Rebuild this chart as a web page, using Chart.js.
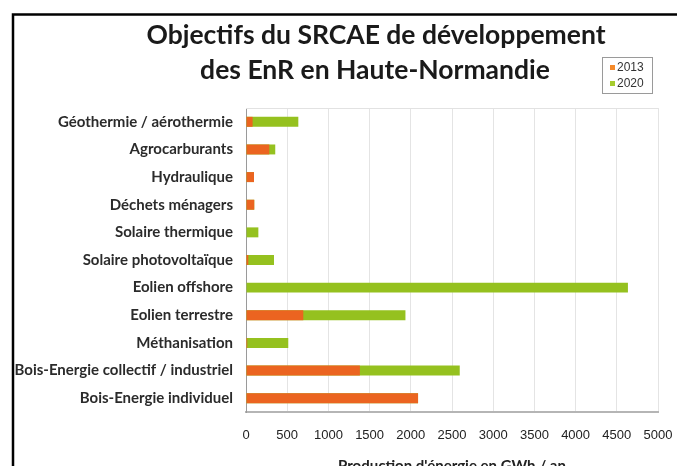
<!DOCTYPE html>
<html>
<head>
<meta charset="utf-8">
<style>
  body { margin: 0; background: #fff; }
  canvas { display: block; }
</style>
<script src="https://cdn.jsdelivr.net/npm/chart.js@4/dist/chart.umd.min.js"></script>
</head>
<body>
<canvas id="enrChart" width="677" height="466"></canvas>
<script>
// Data
const categories = [
  'Géothermie / aérothermie',
  'Agrocarburants',
  'Hydraulique',
  'Déchets ménagers',
  'Solaire thermique',
  'Solaire photovoltaïque',
  'Eolien offshore',
  'Eolien terrestre',
  'Méthanisation',
  'Bois-Energie collectif / industriel',
  'Bois-Energie individuel'
];
const values2013 = [80, 283, 97, 100, 0, 28, 0, 695, 15, 1382, 2088];
const values2020 = [635, 355, 97, 100, 150, 340, 4635, 1935, 513, 2594, 2088];
const titleLines = ['Objectifs du SRCAE de développement', 'des EnR en Haute-Normandie'];
const axisTitle = "Production d'énergie en GWh / an";

const calibriLike = 'Lato, "Open Sans", sans-serif';

// frame, title, legend box and top border of the plot
const decorPlugin = {
  id: 'decor',
  beforeDraw(chart) {
    const c = chart.ctx;
    c.save();
    c.fillStyle = '#fff';
    c.fillRect(0, 0, chart.width, chart.height);
    c.strokeStyle = '#000';
    c.lineWidth = 2.5;
    c.beginPath();
    c.moveTo(13, chart.height);
    c.lineTo(13, 14.5);
    c.lineTo(chart.width, 14.5);
    c.stroke();
    c.restore();
  },
  afterDraw(chart) {
    const c = chart.ctx;
    const area = chart.chartArea;
    c.save();
    // top border of the plot
    c.strokeStyle = '#e2e2e2';
    c.lineWidth = 1;
    c.beginPath();
    c.moveTo(area.left, area.top + 0.5);
    c.lineTo(area.right, area.top + 0.5);
    c.stroke();

    // title
    c.fillStyle = '#1a1a1a';
    c.font = 'bold 26.5px ' + calibriLike;
    c.textAlign = 'center';
    c.textBaseline = 'middle';
    c.fillText(titleLines[0], 376, 35);
    c.fillText(titleLines[1], 375, 70);

    // legend
    c.strokeStyle = '#9a9a9a';
    c.strokeRect(602.5, 57.5, 50, 36);
    c.font = '12px "Liberation Sans", Arial, sans-serif';
    c.textAlign = 'left';
    const markers = ['#f58a2a', '#a6cc2e'];
    chart.data.datasets.forEach((ds, i) => {
      const y = 68 + i * 16;
      c.fillStyle = markers[i];
      c.fillRect(610, y - 3, 5, 5);
      c.fillStyle = '#333';
      c.fillText(ds.label, 617, y);
    });
    c.restore();
  }
};

const ctx = document.getElementById('enrChart');

new Chart(ctx, {
  type: 'bar',
  data: {
    labels: categories,
    datasets: [
      {
        label: '2013',
        data: values2013,
        backgroundColor: '#eb6420',
        grouped: false,
        barPercentage: 0.36,
        categoryPercentage: 1
      },
      {
        label: '2020',
        data: values2020,
        backgroundColor: '#95c11f',
        grouped: false,
        barPercentage: 0.36,
        categoryPercentage: 1
      }
    ]
  },
  options: {
    indexAxis: 'y',
    responsive: false,
    animation: false,
    layout: { padding: { top: 108, right: 19, left: 0, bottom: 0 } },
    plugins: {
      legend: { display: false },
      title: { display: false },
      tooltip: { enabled: false }
    },
    scales: {
      x: {
        min: 0,
        max: 5000,
        ticks: {
          stepSize: 500,
          padding: 16,
          color: '#222',
          font: { family: '"Liberation Sans", Arial, sans-serif', size: 13 },
          maxRotation: 0,
          autoSkip: false,
          callback: (value) => String(value)
        },
        grid: { color: '#e4e4e4', drawTicks: false },
        border: { color: '#b5b5b5', width: 2 },
        title: {
          display: true,
          text: axisTitle,
          color: '#222',
          font: { family: calibriLike, size: 15, weight: 'bold' },
          padding: { top: 0, bottom: -9 }
        },
        afterFit(scale) {
          scale.height = 54;
          scale.paddingLeft = 0;
          scale.paddingRight = 0;
        }
      },
      y: {
        ticks: {
          padding: 5,
          color: '#2b2b2b',
          font: { family: calibriLike, size: 15, weight: 'bold' },
          autoSkip: false
        },
        grid: { display: false },
        border: { color: '#9a9a9a', width: 1 },
        afterFit(scale) { scale.width = 246; }
      }
    }
  },
  plugins: [decorPlugin]
});
</script>
</body>
</html>
